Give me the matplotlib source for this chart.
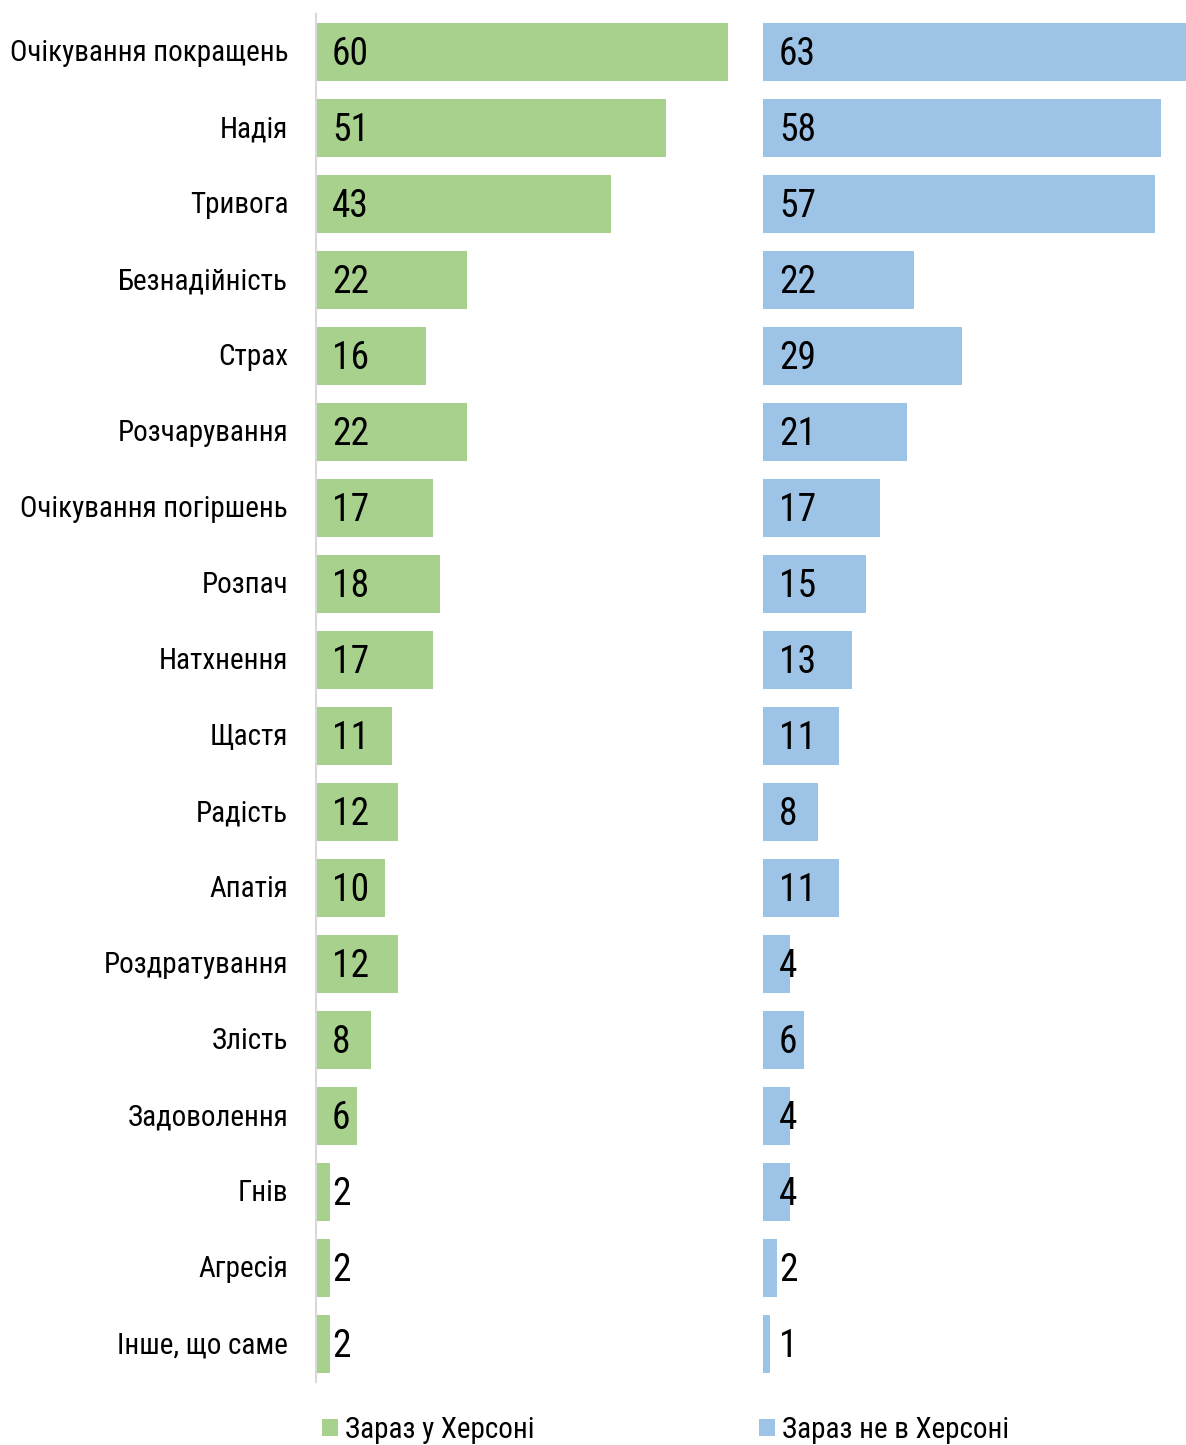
import matplotlib.pyplot as plt
from matplotlib import font_manager
from matplotlib.transforms import ScaledTranslation

# emotions, share of respondents (%)
categories = ['Очікування покращень', 'Надія', 'Тривога', 'Безнадійність', 'Страх',
              'Розчарування', 'Очікування погіршень', 'Розпач', 'Натхнення', 'Щастя',
              'Радість', 'Апатія', 'Роздратування', 'Злість', 'Задоволення', 'Гнів',
              'Агресія', 'Інше, що саме']
in_kherson = [60, 51, 43, 22, 16, 22, 17, 18, 17, 11, 12, 10, 12, 8, 6, 2, 2, 2]
not_in_kherson = [63, 58, 57, 22, 29, 21, 17, 15, 13, 11, 8, 11, 4, 6, 4, 4, 2, 1]
series_names = ['Зараз у Херсоні', 'Зараз не в Херсоні']

GREEN = '#A9D18E'
BLUE = '#9DC3E6'

names = {f.name for f in font_manager.fontManager.ttflist}
family = [f for f in ['Roboto Condensed', 'Liberation Sans Narrow', 'Roboto'] if f in names] + ['DejaVu Sans']
plt.rcParams['font.family'] = family

W, H = 1186, 1445
fig = plt.figure(figsize=(W / 100, H / 100), dpi=100)

px = 6.87  # pixels per percent
y0, y1 = 14, 1382
left_x, right_x = 316, 763
ax1 = fig.add_axes([left_x / W, (H - y1) / H, 444 / W, (y1 - y0) / H])
ax2 = fig.add_axes([right_x / W, (H - y1) / H, 460 / W, (y1 - y0) / H])

NUM_SIZE = 27
pos = list(range(len(categories)))
bars = []
for ax, vals, color, width_px in [(ax1, in_kherson, GREEN, 444), (ax2, not_in_kherson, BLUE, 460)]:
    b = ax.barh(pos, vals, height=0.76, color=color)
    bars.append(b)
    # numbers sit at the bar base, vertically centred on the digit height
    for i, v in enumerate(vals):
        ax.annotate(str(v), xy=(0, i), xytext=(11.5, -0.355 * NUM_SIZE), textcoords='offset points',
                    ha='left', va='baseline', fontsize=NUM_SIZE, color='black')
    ax.set_xlim(0, width_px / px)
    ax.set_ylim(len(categories) - 0.5, -0.5)
    ax.set_xticks([])
    for s in ['top', 'right', 'bottom']:
        ax.spines[s].set_visible(False)

ax1.spines['left'].set_color('#D9D9D9')
ax1.spines['left'].set_linewidth(1.5)
ax1.set_yticks(pos)
ax1.set_yticklabels(categories, fontsize=21)
ax1.tick_params(axis='y', length=0, pad=20)
lift = ScaledTranslation(0, 0.02, fig.dpi_scale_trans)
for lbl in ax1.get_yticklabels():
    lbl.set_transform(lbl.get_transform() + lift)

ax2.spines['left'].set_visible(False)
ax2.set_yticks([])

for b, name, x in zip(bars, series_names, [322, 759]):
    fig.legend([b], [name], loc='center left', bbox_to_anchor=(x / W, 1 - 1430 / H),
               frameon=False, fontsize=21, handlelength=0.55, handleheight=0.55,
               handletextpad=0.25, borderpad=0, borderaxespad=0)

fig.savefig('out.png', dpi=100)
